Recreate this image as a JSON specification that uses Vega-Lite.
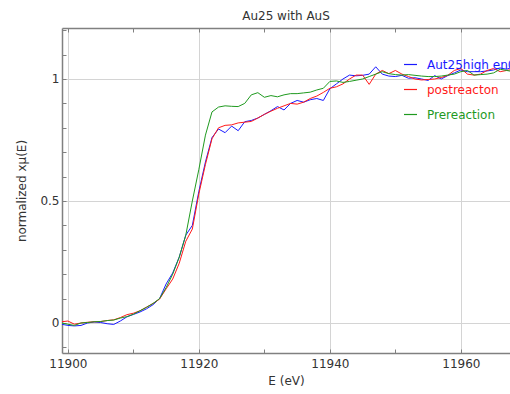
{
  "$schema": "https://vega.github.io/schema/vega-lite/v6.json",
  "width": 448,
  "height": 325,
  "autosize": {"type": "none"},
  "padding": {"left": 62, "top": 28, "right": 0, "bottom": 41},
  "background": "white",
  "view": {"stroke": null},
  "config": {
    "font": "DejaVu Sans",
    "axis": {"labelFont": "DejaVu Sans", "titleFont": "DejaVu Sans", "labelFontSize": 12, "titleFontSize": 12, "titleFontWeight": "normal", "labelColor": "#333333", "titleColor": "#333333", "domainColor": "#808080", "domainWidth": 1.5, "tickColor": "#808080", "tickWidth": 1}
  },
  "title": {"text": "Au25 with AuS", "fontSize": 12, "fontWeight": "normal", "font": "DejaVu Sans", "color": "#333333", "offset": 1},
  "data": {"values": [
    {"E":11899,"Aut25high en0":-0.005,"postreacton":0.005,"Prereaction":0.0},
    {"E":11900,"Aut25high en0":-0.01,"postreacton":0.008,"Prereaction":-0.005},
    {"E":11901,"Aut25high en0":-0.012,"postreacton":-0.005,"Prereaction":-0.01},
    {"E":11902,"Aut25high en0":-0.01,"postreacton":0.0,"Prereaction":0.0},
    {"E":11903,"Aut25high en0":0.0,"postreacton":0.003,"Prereaction":0.002},
    {"E":11904,"Aut25high en0":0.004,"postreacton":0.005,"Prereaction":0.005},
    {"E":11905,"Aut25high en0":0.002,"postreacton":0.006,"Prereaction":0.006},
    {"E":11906,"Aut25high en0":-0.003,"postreacton":0.01,"Prereaction":0.01},
    {"E":11907,"Aut25high en0":-0.006,"postreacton":0.013,"Prereaction":0.012},
    {"E":11908,"Aut25high en0":0.008,"postreacton":0.022,"Prereaction":0.02},
    {"E":11909,"Aut25high en0":0.025,"postreacton":0.034,"Prereaction":0.026},
    {"E":11910,"Aut25high en0":0.035,"postreacton":0.04,"Prereaction":0.036},
    {"E":11911,"Aut25high en0":0.045,"postreacton":0.05,"Prereaction":0.05},
    {"E":11912,"Aut25high en0":0.058,"postreacton":0.065,"Prereaction":0.064},
    {"E":11913,"Aut25high en0":0.075,"postreacton":0.08,"Prereaction":0.08},
    {"E":11914,"Aut25high en0":0.1,"postreacton":0.098,"Prereaction":0.1},
    {"E":11915,"Aut25high en0":0.16,"postreacton":0.14,"Prereaction":0.145},
    {"E":11916,"Aut25high en0":0.205,"postreacton":0.18,"Prereaction":0.2},
    {"E":11917,"Aut25high en0":0.27,"postreacton":0.245,"Prereaction":0.27},
    {"E":11918,"Aut25high en0":0.36,"postreacton":0.335,"Prereaction":0.36},
    {"E":11919,"Aut25high en0":0.4,"postreacton":0.385,"Prereaction":0.5},
    {"E":11920,"Aut25high en0":0.54,"postreacton":0.53,"Prereaction":0.63},
    {"E":11921,"Aut25high en0":0.66,"postreacton":0.65,"Prereaction":0.77},
    {"E":11922,"Aut25high en0":0.76,"postreacton":0.755,"Prereaction":0.865},
    {"E":11923,"Aut25high en0":0.795,"postreacton":0.8,"Prereaction":0.885},
    {"E":11924,"Aut25high en0":0.78,"postreacton":0.81,"Prereaction":0.89},
    {"E":11925,"Aut25high en0":0.807,"postreacton":0.812,"Prereaction":0.888},
    {"E":11926,"Aut25high en0":0.788,"postreacton":0.82,"Prereaction":0.887},
    {"E":11927,"Aut25high en0":0.825,"postreacton":0.823,"Prereaction":0.9},
    {"E":11928,"Aut25high en0":0.83,"postreacton":0.826,"Prereaction":0.935},
    {"E":11929,"Aut25high en0":0.84,"postreacton":0.84,"Prereaction":0.944},
    {"E":11930,"Aut25high en0":0.855,"postreacton":0.855,"Prereaction":0.925},
    {"E":11931,"Aut25high en0":0.87,"postreacton":0.868,"Prereaction":0.932},
    {"E":11932,"Aut25high en0":0.887,"postreacton":0.88,"Prereaction":0.927},
    {"E":11933,"Aut25high en0":0.873,"postreacton":0.89,"Prereaction":0.935},
    {"E":11934,"Aut25high en0":0.9,"postreacton":0.9,"Prereaction":0.94},
    {"E":11935,"Aut25high en0":0.912,"postreacton":0.897,"Prereaction":0.94},
    {"E":11936,"Aut25high en0":0.905,"postreacton":0.905,"Prereaction":0.943},
    {"E":11937,"Aut25high en0":0.915,"postreacton":0.92,"Prereaction":0.946},
    {"E":11938,"Aut25high en0":0.92,"postreacton":0.93,"Prereaction":0.955},
    {"E":11939,"Aut25high en0":0.912,"postreacton":0.945,"Prereaction":0.962},
    {"E":11940,"Aut25high en0":0.96,"postreacton":0.962,"Prereaction":0.99},
    {"E":11941,"Aut25high en0":0.98,"postreacton":0.968,"Prereaction":0.992},
    {"E":11942,"Aut25high en0":1.0,"postreacton":0.98,"Prereaction":0.986},
    {"E":11943,"Aut25high en0":1.016,"postreacton":1.0,"Prereaction":0.99},
    {"E":11944,"Aut25high en0":1.013,"postreacton":1.016,"Prereaction":0.995},
    {"E":11945,"Aut25high en0":1.015,"postreacton":1.016,"Prereaction":1.0},
    {"E":11946,"Aut25high en0":1.02,"postreacton":0.978,"Prereaction":1.01},
    {"E":11947,"Aut25high en0":1.05,"postreacton":1.02,"Prereaction":1.02},
    {"E":11948,"Aut25high en0":1.02,"postreacton":1.035,"Prereaction":1.03},
    {"E":11949,"Aut25high en0":1.012,"postreacton":1.022,"Prereaction":1.022},
    {"E":11950,"Aut25high en0":1.01,"postreacton":1.035,"Prereaction":1.018},
    {"E":11951,"Aut25high en0":1.015,"postreacton":1.02,"Prereaction":1.016},
    {"E":11952,"Aut25high en0":1.003,"postreacton":1.01,"Prereaction":1.018},
    {"E":11953,"Aut25high en0":1.005,"postreacton":1.0,"Prereaction":1.015},
    {"E":11954,"Aut25high en0":1.0,"postreacton":0.996,"Prereaction":1.012},
    {"E":11955,"Aut25high en0":0.994,"postreacton":0.998,"Prereaction":1.01},
    {"E":11956,"Aut25high en0":1.014,"postreacton":1.0,"Prereaction":1.01},
    {"E":11957,"Aut25high en0":1.0,"postreacton":1.006,"Prereaction":1.012},
    {"E":11958,"Aut25high en0":1.014,"postreacton":1.015,"Prereaction":1.016},
    {"E":11959,"Aut25high en0":1.025,"postreacton":1.035,"Prereaction":1.02},
    {"E":11960,"Aut25high en0":1.037,"postreacton":1.043,"Prereaction":1.03},
    {"E":11961,"Aut25high en0":1.03,"postreacton":1.02,"Prereaction":1.035},
    {"E":11962,"Aut25high en0":1.03,"postreacton":1.016,"Prereaction":1.016},
    {"E":11963,"Aut25high en0":1.03,"postreacton":1.02,"Prereaction":1.018},
    {"E":11964,"Aut25high en0":1.033,"postreacton":1.035,"Prereaction":1.02},
    {"E":11965,"Aut25high en0":1.037,"postreacton":1.043,"Prereaction":1.025},
    {"E":11966,"Aut25high en0":1.045,"postreacton":1.03,"Prereaction":1.04},
    {"E":11967,"Aut25high en0":1.04,"postreacton":1.035,"Prereaction":1.035},
    {"E":11968,"Aut25high en0":1.05,"postreacton":1.04,"Prereaction":1.03}
  ]},
  "transform": [{"fold": ["Aut25high en0", "postreacton", "Prereaction"], "as": ["series", "v"]}],
  "layer": [
    {
      "mark": {"type": "line", "strokeWidth": 1, "clip": true},
      "encoding": {
        "x": {"field": "E", "type": "quantitative", "scale": {"domain": [11899.1, 11967.5], "nice": false, "zero": false},
          "axis": {"orient": "bottom", "title": "E (eV)", "titlePadding": 6, "values": [11900, 11910, 11920, 11930, 11940, 11950, 11960],
            "labelExpr": "datum.value % 20 === 0 ? datum.label : ''", "format": "d",
            "tickSize": -4, "labelPadding": 9, "grid": true, "labelOverlap": false, "labelFlush": false,
            "gridColor": {"condition": {"test": "datum.value % 20 === 0", "value": "#d4d4d4"}, "value": "transparent"}}},
        "y": {"field": "v", "type": "quantitative", "scale": {"domain": [-0.123, 1.209], "nice": false, "zero": false},
          "axis": {"orient": "left", "title": "normalized xμ(E)", "titlePadding": 11, "values": [-0.1, 0, 0.1, 0.2, 0.3, 0.4, 0.5, 0.6, 0.7, 0.8, 0.9, 1, 1.1, 1.2],
            "labelExpr": "abs(datum.value) < 0.001 ? '0' : abs(datum.value - 0.5) < 0.001 ? '0.5' : abs(datum.value - 1) < 0.001 ? '1' : ''",
            "tickSize": -4, "labelPadding": 7, "grid": true, "labelOverlap": false, "labelFlush": false,
            "gridColor": {"condition": {"test": "abs(datum.value) < 0.001 || abs(datum.value - 0.5) < 0.001 || abs(datum.value - 1) < 0.001", "value": "#d4d4d4"}, "value": "transparent"}}},
        "color": {"field": "series", "type": "nominal",
          "scale": {"domain": ["Aut25high en0", "postreacton", "Prereaction"], "range": ["#1a1aff", "#ff1a1a", "#1f9a1f"]},
          "sort": ["Aut25high en0", "postreacton", "Prereaction"],
          "legend": {"orient": "none", "legendX": 341, "legendY": 29, "title": null, "padding": 0,
            "symbolType": "stroke", "symbolSize": 169, "symbolStrokeWidth": 1.2, "labelFontSize": 12, "labelFont": "DejaVu Sans",
            "labelOffset": 9, "rowPadding": 11, "labelLimit": 400,
            "encode": {"labels": {"update": {"fill": {"scale": "color", "field": "value"}}}}}}
      }
    },
    {
      "mark": {"type": "line", "strokeOpacity": 0, "clip": true},
      "encoding": {
        "x": {"field": "E", "type": "quantitative",
          "axis": {"orient": "top", "title": null, "labels": false, "grid": false, "values": [11900, 11910, 11920, 11930, 11940, 11950, 11960], "tickSize": -4}},
        "y": {"field": "v", "type": "quantitative", "axis": null},
        "detail": {"field": "series"}
      }
    }
  ],
  "resolve": {"axis": {"x": "independent", "y": "independent"}}
}
